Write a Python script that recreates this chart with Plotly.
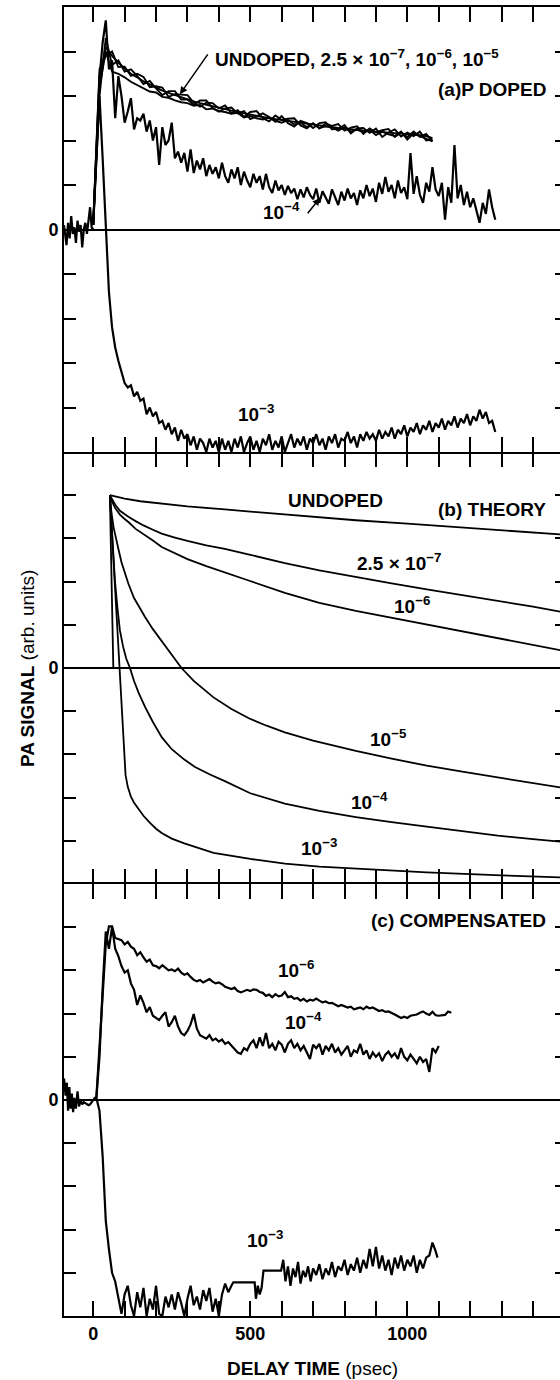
import numpy as np
import plotly.graph_objects as go

# ---------------- DATA ----------------
# x axis (delay time, psec)
x_tick_vals = list(range(0, 1500, 100))
x_tick_text = ["0", "", "", "", "", "500", "", "", "", "", "1000", "", "", "", ""]
y_tick_vals = [-4, -3, -2, -1, 0, 1, 2, 3, 4]
y_tick_text = ["", "", "", "", "0", "", "", "", ""]

# ---- panel (a) P doped (measured) ----
a_base_t = [-93, -85, -80, -75, -70, -65, -60, -55, -50, -45, -40, -35, -30, -25, -20, -15, -10, -5, 0]
a_base_v = [0.1, -0.35, 0.15, -0.2, 0.3, -0.1, 0.05, -0.3, 0.2, -0.05, 0.1, -0.4, 0.0, 0.15, -0.1, 0.25, 0.5, 0.05, 0.0]

a_group_t0, a_group_step = 0, 20
a_undoped = [0.1, 3.4, 4.1, 3.9, 3.75, 3.62, 3.5, 3.42, 3.33, 3.26, 3.19, 3.12, 3.07, 3.02, 2.97, 2.92, 2.88,
             2.84, 2.8, 2.77, 2.74, 2.7, 2.67, 2.64, 2.61, 2.58, 2.56, 2.53, 2.5, 2.48, 2.46, 2.43, 2.41, 2.39,
             2.37, 2.35, 2.33, 2.31, 2.3, 2.28, 2.27, 2.25, 2.24, 2.22, 2.21, 2.2, 2.18, 2.17, 2.16, 2.15, 2.14,
             2.13, 2.12, 2.1, 2.05]
a_25e7 = [0.1, 3.0, 4.3, 3.7, 3.8, 3.55, 3.6, 3.45, 3.27, 3.34, 3.17, 3.02, 3.11, 3.11, 2.92, 2.92, 2.8, 2.9,
          2.9, 2.73, 2.65, 2.72, 2.74, 2.61, 2.66, 2.48, 2.54, 2.61, 2.53, 2.42, 2.55, 2.39, 2.31, 2.44, 2.39,
          2.28, 2.39, 2.41, 2.25, 2.26, 2.35, 2.16, 2.27, 2.28, 2.17, 2.27, 2.08, 2.18, 2.25, 2.09, 2.18, 2.1,
          2.2, 2.0, 2.02]
a_1e6 = [0.1, 3.6, 3.9, 4.0, 3.65, 3.66, 3.45, 3.5, 3.43, 3.2, 3.22, 3.19, 2.98, 3.04, 3.03, 3.02, 2.85, 2.76,
         2.85, 2.84, 2.72, 2.79, 2.61, 2.68, 2.53, 2.64, 2.66, 2.5, 2.43, 2.56, 2.46, 2.49, 2.5, 2.34, 2.27,
         2.39, 2.27, 2.38, 2.33, 2.37, 2.22, 2.29, 2.32, 2.15, 2.27, 2.18, 2.23, 2.26, 2.08, 2.18, 2.08, 2.2,
         2.08, 2.15, 1.98]
a_1e5 = [0.1, 3.2, 4.0, 3.55, 3.5, 3.42, 3.32, 3.25, 3.18, 3.1, 3.08, 2.98, 2.96, 2.9, 2.86, 2.84, 2.78, 2.8,
         2.7, 2.72, 2.66, 2.64, 2.6, 2.62, 2.52, 2.55, 2.5, 2.47, 2.52, 2.44, 2.4, 2.46, 2.36, 2.4, 2.3, 2.38,
         2.28, 2.32, 2.3, 2.22, 2.3, 2.2, 2.25, 2.18, 2.24, 2.12, 2.2, 2.14, 2.1, 2.2, 2.02, 2.16, 2.1, 2.04, 1.98]

a_noisy_t0, a_noisy_step = 0, 10
a_1e4 = [0.1, 1.6, 3.4, 4.2, 4.7, 3.6, 3.8, 2.5, 3.45, 3.0,
         2.4, 2.65, 2.95, 2.25, 2.5, 2.45, 2.6, 2.2, 2.45, 2.0,
         2.3, 1.45, 2.3, 1.9, 2.0, 2.4, 1.6, 1.75, 1.5, 1.72,
         1.3, 1.8, 1.27, 1.55, 1.35, 1.6, 1.2, 1.45, 1.25, 1.4,
         1.15, 1.5, 1.2, 1.05, 1.35, 1.15, 1.4, 1.0, 1.3, 1.1,
         0.95, 1.25, 1.05, 1.2, 0.9, 1.25, 0.95, 0.82, 1.1, 0.88,
         1.0, 0.78, 0.98, 0.82, 0.92, 0.68, 0.9, 0.72, 0.95, 0.78,
         0.68, 0.92, 0.6, 0.86, 0.72, 0.58, 0.9, 0.7, 0.55, 0.85,
         0.65, 0.92, 0.7, 0.82, 0.55, 0.88, 0.7, 1.0, 0.75, 0.92,
         0.62, 1.05, 0.8, 1.18, 0.85, 1.0, 0.7, 1.1, 0.82, 0.95,
         0.68, 1.72, 0.8, 1.2, 0.78, 0.6, 1.05, 0.85, 1.4, 0.9,
         0.75, 1.05, 0.22, 0.95, 0.6, 1.9, 0.7, 1.0, 0.55, 0.85,
         0.5, 0.7, 0.4, 0.15, 0.6, 0.35, 0.9, 0.5, 0.22]
a_1e3 = [0.1, 1.5, 3.0, 1.6, 0.0, -1.4, -2.2, -2.65, -2.95, -3.2,
         -3.45, -3.55, -3.5, -3.75, -3.65, -3.85, -3.8, -4.15, -4.0, -4.2,
         -4.1, -4.35, -4.3, -4.5, -4.35, -4.6, -4.45, -4.75, -4.5, -4.7,
         -4.6, -4.85, -4.65, -4.95, -4.7, -4.8, -5.0, -4.7, -4.9, -4.75,
         -5.0, -4.7, -4.95, -4.75, -5.0, -4.7, -4.9, -4.65, -5.0, -4.8,
         -4.65, -4.95, -4.75, -5.0, -4.7, -4.85, -4.6, -4.95, -4.75, -4.9,
         -4.65, -5.0, -4.8, -4.6, -4.9, -4.7, -4.85, -4.65, -4.95, -4.7,
         -4.8, -4.6, -4.85, -4.7, -4.95, -4.65, -4.8, -4.6, -4.9, -4.7,
         -4.75, -4.55, -4.8, -4.65, -4.9, -4.6, -4.75, -4.55, -4.7, -4.6,
         -4.75, -4.5, -4.7, -4.55, -4.65, -4.45, -4.7, -4.5, -4.6, -4.4,
         -4.65, -4.45, -4.55, -4.35, -4.6, -4.4, -4.5, -4.3, -4.55, -4.35,
         -4.45, -4.25, -4.5, -4.3, -4.4, -4.2, -4.45, -4.25, -4.35, -4.15,
         -4.4, -4.2, -4.3, -4.05, -4.25, -4.1, -4.35, -4.3, -4.55]

# ---- panel (b) theory ----
b_undoped_t = [53, 100, 150, 220, 300, 419, 600, 836, 1000, 1175, 1300, 1490]
b_undoped_v = [4.0, 3.92, 3.86, 3.8, 3.74, 3.67, 3.56, 3.42, 3.34, 3.25, 3.19, 3.09]
b_25e7_t = [53, 60, 70, 85, 100, 112, 135, 160, 190, 218, 260, 300, 360, 419, 500, 610, 720, 836, 950, 1062, 1175, 1288, 1400, 1490]
b_25e7_v = [4.0, 3.9, 3.78, 3.64, 3.56, 3.5, 3.4, 3.3, 3.2, 3.11, 3.02, 2.94, 2.84, 2.76, 2.62, 2.43, 2.26, 2.1, 1.96, 1.82, 1.69, 1.56, 1.42, 1.3]
b_1e6_t = [53, 60, 70, 85, 100, 112, 135, 160, 190, 218, 260, 300, 360, 419, 497, 610, 720, 836, 950, 1062, 1175, 1288, 1400, 1490]
b_1e6_v = [4.0, 3.85, 3.7, 3.55, 3.45, 3.38, 3.22, 3.1, 2.95, 2.8, 2.65, 2.52, 2.36, 2.22, 2.02, 1.74, 1.51, 1.32, 1.16, 1.01, 0.85, 0.7, 0.54, 0.41]
b_1e5_t = [53, 58, 65, 72, 80, 90, 100, 112, 130, 150, 165, 190, 218, 250, 281, 320, 383, 440, 497, 550, 610, 700, 836, 950, 1062, 1175, 1288, 1400, 1490]
b_1e5_v = [4.0, 3.6, 3.25, 2.98, 2.76, 2.45, 2.2, 1.95, 1.62, 1.36, 1.18, 0.9, 0.62, 0.3, 0.0, -0.3, -0.68, -0.95, -1.17, -1.33, -1.49, -1.68, -1.92, -2.1, -2.26, -2.4, -2.53, -2.66, -2.77]
b_1e4_t = [53, 60, 69, 77, 85, 95, 105, 117, 130, 145, 165, 190, 218, 250, 290, 324, 370, 419, 500, 610, 720, 836, 950, 1062, 1175, 1288, 1400, 1490]
b_1e4_v = [4.0, 3.0, 2.03, 1.4, 0.87, 0.5, 0.22, 0.0, -0.3, -0.58, -0.9, -1.25, -1.6, -1.88, -2.12, -2.29, -2.46, -2.62, -2.9, -3.14, -3.31, -3.45, -3.57, -3.67, -3.78, -3.88, -3.96, -4.02]
b_1e3_t = [53, 85, 103, 110, 120, 130, 143, 160, 180, 200, 218, 250, 290, 324, 383, 500, 610, 720, 836, 1062, 1300, 1490]
b_1e3_v = [4.0, 0.0, -2.48, -2.75, -2.98, -3.12, -3.25, -3.42, -3.58, -3.72, -3.82, -3.95, -4.06, -4.14, -4.28, -4.42, -4.53, -4.6, -4.65, -4.73, -4.8, -4.85]
b_drop_t = [53, 64]
b_drop_v = [4.0, 0.0]

# ---- panel (c) compensated (measured) ----
c_base_t = [-93, -88, -84, -80, -76, -72, -68, -64, -60, -55, -50, -45, -40, -35, -30, -25, -20, -15, -10, -5, 0, 5, 10]
c_base_v = [0.5, 0.1, 0.4, -0.25, 0.3, -0.2, 0.15, -0.28, 0.05, -0.2, 0.2, -0.15, 0.0, -0.1, -0.05, -0.08, -0.1, -0.12, -0.1, -0.05, 0.0, 0.05, 0.05]

c_t0, c_step = 10, 10
c_1e6 = [0.05, 1.2, 2.4, 3.6, 4.02, 4.02, 3.75, 3.72, 3.7, 3.6,
         3.66, 3.55, 3.5, 3.35, 3.42, 3.3, 3.2, 3.25, 3.12, 3.1,
         3.05, 3.12, 3.05, 3.0, 3.02, 2.98, 3.04, 2.95, 2.9, 2.93,
         2.85, 2.78, 2.75, 2.78, 2.72, 2.76, 2.8, 2.74, 2.7, 2.72,
         2.68, 2.62, 2.6, 2.57, 2.6, 2.52, 2.49, 2.52, 2.55, 2.52,
         2.56, 2.55, 2.5, 2.48, 2.41, 2.44, 2.38, 2.45, 2.4, 2.42,
         2.5, 2.38, 2.4, 2.34, 2.36, 2.3, 2.34, 2.28, 2.32, 2.3,
         2.35, 2.3, 2.26, 2.28, 2.24, 2.25, 2.2, 2.17, 2.2, 2.17,
         2.14, 2.16, 2.1, 2.12, 2.14, 2.1, 2.16, 2.12, 2.14, 2.1,
         2.06, 2.08, 2.04, 2.05, 2.02, 1.98, 1.94, 1.9, 1.93, 1.9,
         1.95, 1.96, 1.98, 2.02, 2.05, 2.0, 1.97, 2.04, 1.96, 1.95,
         1.96, 1.97, 2.05, 2.02]
c_1e4 = [0.05, 1.0, 2.6, 3.9, 3.5, 4.0, 3.5, 3.33, 3.1, 2.95,
         3.0, 2.7, 2.55, 2.2, 2.42, 2.25, 2.03, 2.15, 1.95, 1.9,
         1.85, 1.95, 2.03, 1.7, 1.8, 1.95, 1.7, 1.55, 1.5, 1.6,
         1.75, 1.99, 1.65, 1.5, 1.45, 1.42, 1.5, 1.38, 1.42, 1.35,
         1.4, 1.3, 1.34, 1.26, 1.2, 1.1, 1.07, 1.2, 1.15, 1.3,
         1.38, 1.2, 1.45, 1.25, 1.55, 1.2, 1.3, 1.15, 1.35, 1.28,
         1.1, 1.3, 1.38, 1.2, 1.3, 1.15, 1.25, 1.1, 0.95, 1.28,
         1.2, 1.3, 1.05, 1.25, 1.15, 1.3, 1.1, 1.2, 1.05, 1.15,
         1.25, 1.0, 1.15, 1.1, 1.3, 1.05, 1.15, 0.95, 1.1, 1.0,
         1.08, 0.9, 1.05, 1.12, 1.0, 1.08, 0.95, 1.2, 1.0, 0.92,
         1.05, 0.95, 0.85, 1.0, 0.88, 0.95, 0.65, 1.2, 1.1, 1.25]
c_1e3_t = [10, 20, 30, 40, 50, 60, 70, 80, 90, 100, 110, 120, 130, 140, 150, 160, 170, 180, 190, 200,
           210, 220, 230, 240, 250, 260, 270, 280, 290, 300, 310, 320, 330, 340, 350, 360, 370, 380, 390, 400,
           410, 420, 430, 440, 446, 514, 518, 524, 530, 536, 542, 598, 605, 612, 620, 628, 636, 644, 652, 660,
           668, 676, 684, 692, 700, 710, 720, 730, 740, 750, 760, 770, 780, 790, 800, 810, 820, 830, 840, 850,
           860, 870, 880, 890, 900, 910, 920, 930, 940, 950, 960, 970, 980, 990, 1000, 1010, 1020, 1030, 1040, 1050,
           1060, 1070, 1080, 1090, 1096]
c_1e3_v = [0.05, -0.25, -1.3, -2.8, -3.45, -4.0, -4.2, -4.6, -4.95, -4.5, -4.3, -4.75, -5.0, -4.45, -4.8, -4.35, -5.0, -4.6, -4.85, -4.3,
           -4.95, -5.0, -4.55, -4.8, -4.5, -4.85, -4.45, -4.7, -5.0, -4.6, -4.3, -4.75, -4.55, -4.85, -4.4, -4.65, -4.35, -4.9, -4.6, -5.0,
           -4.5, -4.25, -4.45, -4.3, -4.22, -4.22, -4.6, -4.3, -4.5, -4.35, -3.95, -3.95, -3.7, -4.2, -3.85, -4.3, -3.9, -4.1, -3.75, -4.25,
           -3.95, -4.1, -3.85, -4.2, -3.9, -4.05, -3.8, -4.15, -3.9, -4.05, -3.75, -4.1, -3.85, -3.95, -3.7, -4.05, -3.8, -3.95, -3.65, -4.0,
           -3.7, -3.9, -3.45, -3.85, -3.4, -3.9, -3.6, -3.95, -3.7, -4.05, -3.65, -3.9, -3.6, -3.95, -3.7, -3.85, -3.6, -4.0, -3.7, -3.9,
           -3.65, -3.6, -3.3, -3.5, -3.65]

assert len(c_1e3_t) == len(c_1e3_v)


def grid(t0, step, vals):
    return (t0 + step * np.arange(len(vals))).tolist()


# ---------------- FIGURE ----------------
fig = go.Figure()
FONT = "Liberation Sans"


def add(xs, ys, xa, ya, w=2.2):
    fig.add_trace(go.Scatter(x=xs, y=ys, mode="lines", line=dict(color="black", width=w),
                             xaxis=xa, yaxis=ya, showlegend=False, hoverinfo="skip"))


# panel a -> x3/y3, panel b -> x2/y2, panel c -> x/y
add(a_base_t, a_base_v, "x3", "y3")
for v in (a_undoped, a_25e7, a_1e6, a_1e5):
    add(grid(a_group_t0, a_group_step, v), v, "x3", "y3", 1.9)
add(grid(a_noisy_t0, a_noisy_step, a_1e4), a_1e4, "x3", "y3")
add(grid(a_noisy_t0, a_noisy_step, a_1e3), a_1e3, "x3", "y3")

for t, v in ((b_undoped_t, b_undoped_v), (b_25e7_t, b_25e7_v), (b_1e6_t, b_1e6_v),
             (b_1e5_t, b_1e5_v), (b_1e4_t, b_1e4_v), (b_1e3_t, b_1e3_v), (b_drop_t, b_drop_v)):
    add(t, v, "x2", "y2", 1.8)

add(c_base_t, c_base_v, "x", "y")
add(grid(c_t0, c_step, c_1e6), c_1e6, "x", "y")
add(grid(c_t0, c_step, c_1e4), c_1e4, "x", "y")
add(c_1e3_t, c_1e3_v, "x", "y")

# dummy traces so right-hand tick axes render
for ya, xa in (("y4", "x"), ("y5", "x2"), ("y6", "x3")):
    fig.add_trace(go.Scatter(x=[None], y=[None], xaxis=xa, yaxis=ya, showlegend=False, hoverinfo="skip"))

H = 1309.0
dom_c = [0.0, 432 / H]
dom_b = [432 / H, 864 / H]
dom_a = [864 / H, 1.0]

xcommon = dict(range=[-93, 1486], linecolor="black", linewidth=2, mirror="ticks",
               ticks="inside", ticklen=15, tickwidth=1.5, tickcolor="black",
               tickvals=x_tick_vals, showgrid=False, zeroline=False)
ycommon = dict(range=[-5, 5], showline=True, linecolor="black", linewidth=2,
               ticks="inside", ticklen=12, tickwidth=1.5, tickcolor="black",
               tickvals=y_tick_vals, ticktext=y_tick_text,
               tickfont=dict(family=FONT, size=18, color="black", weight="bold"),
               zeroline=True, zerolinecolor="black", zerolinewidth=1.5, showgrid=False)
yright = dict(range=[-5, 5], side="right", ticks="inside", ticklen=5, tickwidth=1.5, tickcolor="black",
              tickvals=y_tick_vals, showticklabels=False, showline=False, showgrid=False, zeroline=False)

fig.update_layout(
    width=560, height=1380,
    margin=dict(l=64, r=0, t=7, b=64),
    paper_bgcolor="white", plot_bgcolor="white",
    showlegend=False,
    xaxis=dict(**xcommon, showline=True, anchor="y", ticktext=x_tick_text,
               tickfont=dict(family=FONT, size=18, color="black", weight="bold")),
    xaxis2=dict(**xcommon, showline=False, anchor="y2", showticklabels=False),
    xaxis3=dict(**xcommon, showline=True, anchor="y3", showticklabels=False),
    yaxis=dict(**ycommon, domain=dom_c, anchor="x"),
    yaxis2=dict(**ycommon, domain=dom_b, anchor="x2"),
    yaxis3=dict(**ycommon, domain=dom_a, anchor="x3"),
    yaxis4=dict(**yright, overlaying="y", anchor="x"),
    yaxis5=dict(**yright, overlaying="y2", anchor="x2"),
    yaxis6=dict(**yright, overlaying="y3", anchor="x3"),
)

TF = dict(family=FONT, size=19, color="black")


def label(text, x, y, xa, ya, xanchor="center"):
    fig.add_annotation(text=text, x=x, y=y, xref=xa, yref=ya, xanchor=xanchor, yanchor="middle",
                       showarrow=False, font=TF)


# panel a labels
label("<b>UNDOPED, 2.5 × 10<sup>−7</sup>, 10<sup>−6</sup>, 10<sup>−5</sup></b>", 381, 3.85, "x3", "y3", "left")
label("<b>(a)P DOPED</b>", 1447, 3.14, "x3", "y3", "right")
label("<b>10<sup>−4</sup></b>", 600, 0.42, "x3", "y3")
label("<b>10<sup>−3</sup></b>", 518, -4.12, "x3", "y3")
# arrows in panel a
fig.add_annotation(x=276, y=3.04, ax=368, ay=3.97, xref="x3", yref="y3", axref="x3", ayref="y3",
                   text="", showarrow=True, arrowhead=2, arrowsize=1, arrowwidth=1.5, arrowcolor="black")
fig.add_annotation(x=722, y=0.71, ax=679, ay=0.33, xref="x3", yref="y3", axref="x3", ayref="y3",
                   text="", showarrow=True, arrowhead=2, arrowsize=1, arrowwidth=1.5, arrowcolor="black")

# panel b labels
label("<b>UNDOPED</b>", 772, 3.88, "x2", "y2")
label("<b>(b) THEORY</b>", 1447, 3.66, "x2", "y2", "right")
label("<b>2.5 × 10<sup>−7</sup></b>", 975, 2.45, "x2", "y2")
label("<b>10<sup>−6</sup></b>", 1016, 1.47, "x2", "y2")
label("<b>10<sup>−5</sup></b>", 941, -1.63, "x2", "y2")
label("<b>10<sup>−4</sup></b>", 878, -3.08, "x2", "y2")
label("<b>10<sup>−3</sup></b>", 718, -4.15, "x2", "y2")

# panel c labels
label("<b>(c) COMPENSATED</b>", 1447, 4.15, "x", "y", "right")
label("<b>10<sup>−6</sup></b>", 647, 3.03, "x", "y")
label("<b>10<sup>−4</sup></b>", 669, 1.83, "x", "y")
label("<b>10<sup>−3</sup></b>", 548, -3.22, "x", "y")

# axis titles
fig.add_annotation(text="<b>PA SIGNAL</b> (arb. units)", xref="paper", yref="paper",
                   x=(27 - 64) / 496.0, y=(1316 - 669) / H, textangle=-90,
                   xanchor="center", yanchor="middle", showarrow=False, font=TF)
fig.add_annotation(text="<b>DELAY TIME</b> (psec)", xref="paper", yref="paper",
                   x=0.5, y=(1316 - 1368) / H, xanchor="center", yanchor="middle",
                   showarrow=False, font=TF)

fig.write_html("out.html")
